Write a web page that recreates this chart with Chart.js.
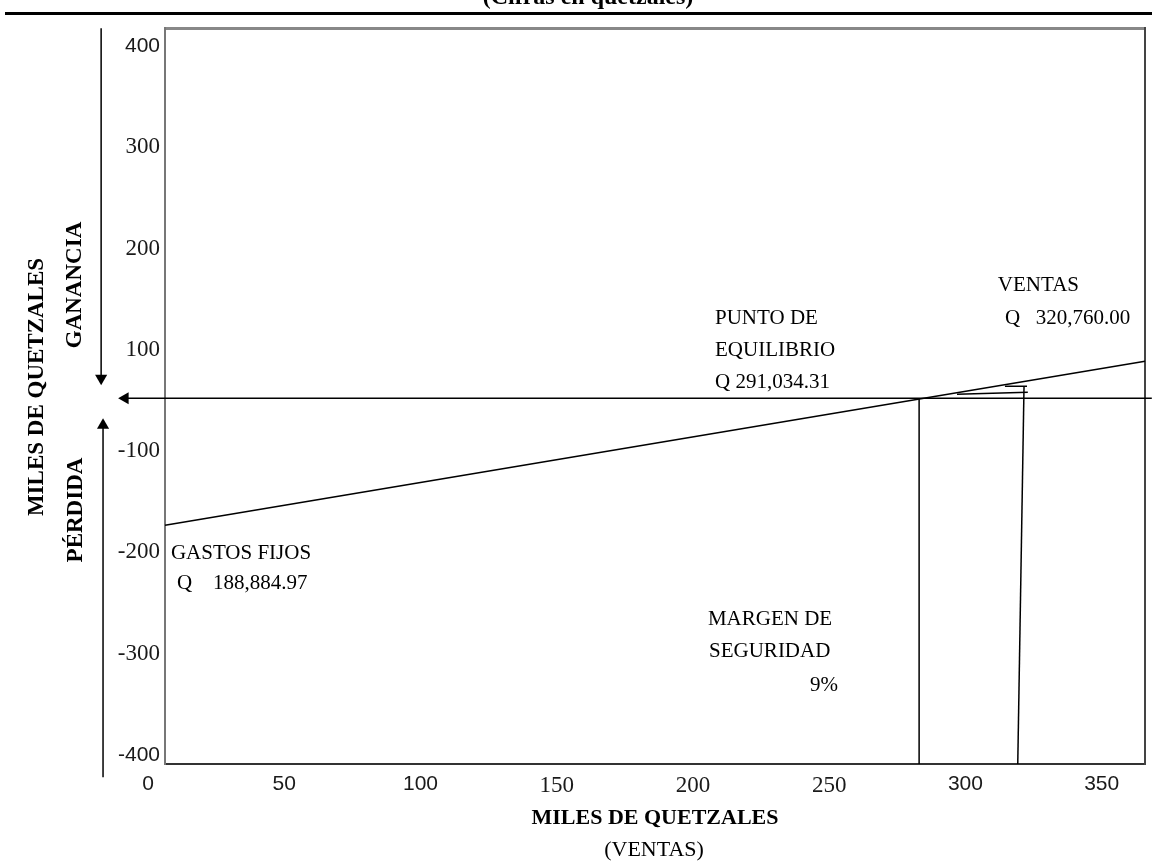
<!DOCTYPE html>
<html>
<head>
  <meta charset="utf-8">
  <title>Punto de equilibrio</title>
  <style>
    body {
      background-color: #ffffff;
      margin: 0;
      padding: 0;
    }
    canvas {
      display: block;
    }
  </style>
  <script src="https://cdn.jsdelivr.net/npm/chart.js"></script>
</head>
<body>
  <canvas id="chartCanvas" width="1152" height="863"></canvas>

  <script>
    // Tick labels.
    var xTickValues = [0, 50, 100, 150, 200, 250, 300, 350];
    var yTickLabels = ['400', '300', '200', '100', '-100', '-200', '-300', '-400'];

    // Result line (loss at the left, profit at the right), in miles de quetzales.
    var resultX = [6.24, 365.9];
    var resultY = [-143.4, 41.8];

    // Vertical at the break-even point.
    var equilibrioX = [283, 283];
    var equilibrioY = [0, -413];

    // Vertical at sales, with the small marks at its top.
    var ventasX = [321.5, 319.2];
    var ventasY = [13.5, -413];
    var ventasTopX = [314.5, 322.6];
    var ventasTopY = [13.5, 13.5];
    var margenX = [296.9, 322.9];
    var margenY = [4.5, 6.8];

    // Zero line and the two arrows beside the vertical axis.
    var ceroX = [368.4, -8.4];
    var ceroY = [0, 0];
    var gananciaX = [-17.2, -17.2];
    var gananciaY = [417.7, 22.6];
    var perdidaX = [-16.5, -16.5];
    var perdidaY = [-427.9, -30.5];

    // Notes written inside the plot.
    var notes = [
      { text: 'GASTOS FIJOS', x: 8.4, y: -175 },
      { text: 'Q    188,884.97', x: 10.6, y: -208.9 },
      { text: 'PUNTO DE', x: 208.1, y: 90.3 },
      { text: 'EQUILIBRIO', x: 208.1, y: 54.2 },
      { text: 'Q 291,034.31', x: 208.1, y: 18.1 },
      { text: 'VENTAS', x: 311.9, y: 127.6 },
      { text: 'Q   320,760.00', x: 314.5, y: 90.3 },
      { text: 'MARGEN DE', x: 205.5, y: -249.5 },
      { text: 'SEGURIDAD', x: 205.9, y: -285.6 },
      { text: '9%', x: 253.2, y: -324, align: 'right' }
    ];

    function points(xs, ys) {
      return xs.map(function(x, i) { return { x: x, y: ys[i] }; });
    }

    // arrow: rotation (degrees) of an arrow head at the last point, if any.
    function lineSet(xs, ys, arrow) {
      return {
        data: points(xs, ys),
        showLine: true,
        borderColor: '#000',
        borderWidth: 1.5,
        pointRadius: 0,
        clip: false,
        arrow: arrow,
        xAxisID: 'x',
        yAxisID: 'y'
      };
    }

    var serif = '"Liberation Serif", "Times New Roman", serif';
    var sans = '"Liberation Sans", Arial, sans-serif';

    // The source mixes two fonts on the tick numbers.
    var sansTickFont = { family: sans, size: 21 };
    var serifTickFont = { family: serif, size: 23 };
    var serifXTicks = [150, 200, 250];
    var sansYTicks = ['400', '-400'];

    var arrowPlugin = {
      id: 'flechas',
      afterDatasetsDraw: function(chart) {
        var ctx = chart.ctx;
        ctx.save();
        ctx.fillStyle = '#000';
        chart.data.datasets.forEach(function(ds, i) {
          if (ds.arrow === undefined) return;
          var els = chart.getDatasetMeta(i).data;
          var p = els[els.length - 1];
          var r = 7;
          var rad = ds.arrow * Math.PI / 180;
          ctx.beginPath();
          for (var k = 0; k < 3; k++) {
            var a = rad + k * 2 * Math.PI / 3;
            var px = p.x + Math.sin(a) * r;
            var py = p.y - Math.cos(a) * r;
            if (k === 0) ctx.moveTo(px, py); else ctx.lineTo(px, py);
          }
          ctx.closePath();
          ctx.fill();
        });
        ctx.restore();
      }
    };

    var textPlugin = {
      id: 'textos',
      afterDraw: function(chart) {
        var ctx = chart.ctx;
        var xs = chart.scales.x;
        var ys = chart.scales.y;
        ctx.save();
        ctx.fillStyle = '#000';

        // Title, cut at the top of the page, and the rule under it.
        ctx.font = 'bold 24px ' + serif;
        ctx.textAlign = 'center';
        ctx.textBaseline = 'alphabetic';
        ctx.fillText('(Cifras en quetzales)', 588, 4);
        ctx.fillRect(5, 12, 1147, 3);

        // Notes inside the plot.
        ctx.font = '21px ' + serif;
        ctx.textBaseline = 'middle';
        notes.forEach(function(n) {
          ctx.textAlign = n.align || 'left';
          ctx.fillText(n.text, xs.getPixelForValue(n.x), ys.getPixelForValue(n.y));
        });

        // Vertical titles.
        function vtext(t, x, y) {
          ctx.save();
          ctx.translate(x, y);
          ctx.rotate(-Math.PI / 2);
          ctx.textAlign = 'center';
          ctx.textBaseline = 'middle';
          ctx.fillText(t, 0, 0);
          ctx.restore();
        }
        ctx.font = 'bold 23px ' + serif;
        vtext('MILES DE QUETZALES', 37, 387);
        vtext('GANANCIA', 75, 285);
        vtext('PÉRDIDA', 76, 510);

        // Horizontal axis title.
        ctx.textAlign = 'center';
        ctx.font = 'bold 22px ' + serif;
        ctx.fillText('MILES DE QUETZALES', 655, 818);
        ctx.font = '22px ' + serif;
        ctx.fillText('(VENTAS)', 654, 850);
        ctx.restore();
      }
    };

    var ctx = document.getElementById('chartCanvas').getContext('2d');
    var chart = new Chart(ctx, {
      type: 'scatter',
      data: {
        datasets: [
          lineSet(resultX, resultY),
          lineSet(equilibrioX, equilibrioY),
          lineSet(ventasX, ventasY),
          lineSet(ventasTopX, ventasTopY),
          lineSet(margenX, margenY),
          lineSet(ceroX, ceroY, -90),
          lineSet(gananciaX, gananciaY, 180),
          lineSet(perdidaX, perdidaY, 0)
        ]
      },
      options: {
        responsive: false,
        animation: false,
        devicePixelRatio: 1,
        events: [],
        layout: {
          padding: { left: 105, right: 7, top: 28, bottom: 0 }
        },
        plugins: {
          legend: { display: false },
          tooltip: { enabled: false }
        },
        scales: {
          x: {
            type: 'linear',
            position: 'bottom',
            min: 6.24,
            max: 365.9,
            afterBuildTicks: function(scale) {
              scale.ticks = xTickValues.map(function(v) { return { value: v }; });
            },
            afterFit: function(scale) { scale.height = 99; },
            grid: { display: false, drawTicks: false },
            border: { display: true, color: '#333', width: 2 },
            ticks: {
              autoSkip: false,
              maxRotation: 0,
              padding: 8,
              color: '#1a1a1a',
              font: function(c) {
                return serifXTicks.indexOf(c.tick && c.tick.value) >= 0 ? serifTickFont : sansTickFont;
              }
            }
          },
          x2: {
            type: 'linear',
            position: 'top',
            min: 6.24,
            max: 365.9,
            afterFit: function(scale) { scale.height = 0; },
            grid: { display: false, drawTicks: false },
            border: { display: true, color: '#888', width: 3 },
            ticks: { display: false }
          },
          y: {
            type: 'linear',
            display: false,
            min: -413,
            max: 418
          },
          yl: {
            type: 'linear',
            position: 'left',
            reverse: true,
            min: -0.179,
            max: 7.09,
            afterBuildTicks: function(scale) {
              scale.ticks = yTickLabels.map(function(l, i) { return { value: i }; });
            },
            afterFit: function(scale) { scale.width = 60; },
            grid: { display: false, drawTicks: false },
            border: { display: true, color: '#777', width: 2 },
            ticks: {
              padding: 5,
              color: '#1a1a1a',
              font: function(c) {
                var label = c.tick ? yTickLabels[c.tick.value] : '';
                return sansYTicks.indexOf(label) >= 0 ? sansTickFont : serifTickFont;
              },
              callback: function(value) { return yTickLabels[value]; }
            }
          },
          y2: {
            type: 'linear',
            position: 'right',
            afterFit: function(scale) { scale.width = 0; },
            grid: { display: false, drawTicks: false },
            border: { display: true, color: '#444', width: 2 },
            ticks: { display: false }
          }
        }
      },
      plugins: [arrowPlugin, textPlugin]
    });
  </script>
</body>
</html>
